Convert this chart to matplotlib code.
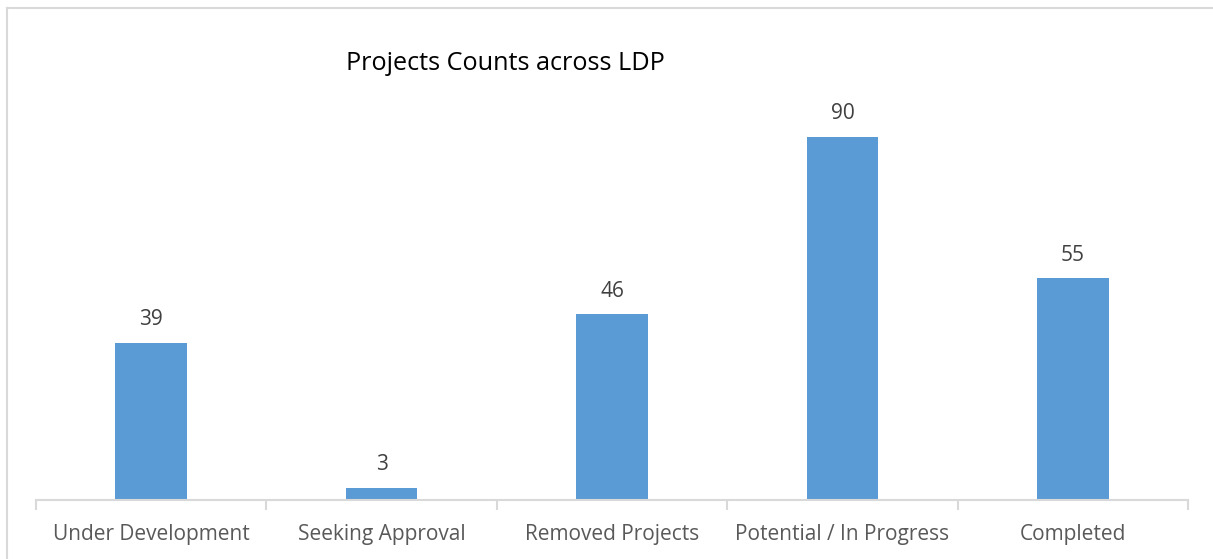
import matplotlib.pyplot as plt
from matplotlib.lines import Line2D

plt.rcParams['font.family'] = ['Open Sans', 'DejaVu Sans']

# data
categories = ['Under Development', 'Seeking Approval', 'Removed Projects', 'Potential / In Progress', 'Completed']
counts = [39, 3, 46, 90, 55]

fig = plt.figure(figsize=(12.13, 5.59), dpi=100)

# outer chart border: only left and top edges are visible in the original
bx, by = 7 / 1213, 1 - 7.5 / 559
fig.lines.append(Line2D([bx, bx], [0, by], transform=fig.transFigure, color='#d9d9d9', linewidth=1.5))
fig.lines.append(Line2D([bx, 1], [by, by], transform=fig.transFigure, color='#d9d9d9', linewidth=1.5))

ax = fig.add_axes([36 / 1213, 59 / 559, 1152 / 1213, 403.5 / 559])
x = range(len(categories))
bars = ax.bar(x, counts, width=0.31, color='#5B9BD5', zorder=2)

for b, v in zip(bars, counts):
    ax.annotate(str(v), (b.get_x() + b.get_width() / 2, v), xytext=(0, 9), textcoords='offset points',
                ha='center', va='bottom', fontsize=15, color='#404040')

ax.set_xlim(-0.5, len(categories) - 0.5)
ax.set_ylim(0, 100)
ax.set_yticks([])
for s in ['top', 'right', 'left']:
    ax.spines[s].set_visible(False)
ax.spines['bottom'].set_color('#d9d9d9')
ax.spines['bottom'].set_linewidth(1.5)

# category labels centred, ticks on the category boundaries
ax.set_xticks(list(x))
ax.set_xticklabels(categories, fontsize=15, color='#595959')
ax.tick_params(axis='x', which='major', length=0, pad=17)
ax.set_xticks([i - 0.5 for i in range(len(categories) + 1)], minor=True)
ax.tick_params(axis='x', which='minor', length=7, width=1.5, color='#d9d9d9')

fig.text(346 / 1213, (559 - 70) / 559, 'Projects Counts across LDP', fontsize=18.2, color='#000000',
         ha='left', va='baseline')

fig.savefig('out.png', dpi=100)
